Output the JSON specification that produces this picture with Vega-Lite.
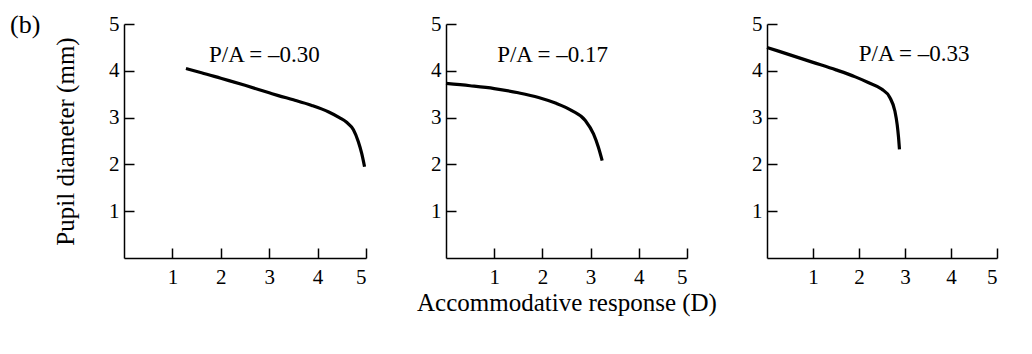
{
  "$schema": "https://vega.github.io/schema/vega-lite/v6.json",
  "padding": {"left": 10, "top": 12, "right": 5, "bottom": 5},
  "background": "white",
  "bounds": "flush",
  "spacing": 80,
  "title": {"text": "(b)", "anchor": "start", "frame": "group", "dx": -114, "dy": 46, "offset": 0, "fontSize": 26, "font": "Liberation Serif", "fontWeight": "normal", "baseline": "alphabetic", "color": "black"},
  "config": {
    "font": "Liberation Serif",
    "view": {"stroke": null},
    "axis": {
      "grid": false,
      "domainColor": "black",
      "domainWidth": 1.5,
      "tickColor": "black",
      "tickWidth": 1.5,
      "tickSize": -10,
      "labelFont": "Liberation Serif",
      "labelFontSize": 21,
      "labelColor": "black",
      "titleFont": "Liberation Serif",
      "titleFontSize": 25,
      "titleFontWeight": "normal",
      "titleColor": "black"
    },
    "axisX": {"labelPadding": 18},
    "axisY": {"labelPadding": 15}
  },
  "hconcat": [
    {
      "width": 242,
      "height": 234,
      "layer": [
        {
          "data": {"values": [
            {"x": 1.28, "y": 4.05}, {"x": 1.6, "y": 3.96}, {"x": 2.0, "y": 3.84}, {"x": 2.5, "y": 3.69},
            {"x": 3.0, "y": 3.53}, {"x": 3.19, "y": 3.47}, {"x": 3.5, "y": 3.38}, {"x": 3.88, "y": 3.26},
            {"x": 4.23, "y": 3.12}, {"x": 4.45, "y": 3.0}, {"x": 4.6, "y": 2.9}, {"x": 4.74, "y": 2.74},
            {"x": 4.84, "y": 2.49}, {"x": 4.91, "y": 2.24}, {"x": 4.97, "y": 1.95}
          ]},
          "mark": {"type": "line", "color": "black", "strokeWidth": 3.2, "interpolate": "monotone"},
          "encoding": {
            "x": {"field": "x", "type": "quantitative", "scale": {"domain": [0, 5], "nice": false}, "axis": {"title": null, "values": [1, 2, 3, 4, 5]}},
            "y": {"field": "y", "type": "quantitative", "scale": {"domain": [0, 5], "nice": false}, "axis": {"title": "Pupil diameter (mm)", "titlePadding": 30, "values": [1, 2, 3, 4, 5]}}
          }
        },
        {
          "data": {"values": [{"x": 2.9, "y": 4.18, "label": "P/A = –0.30"}]},
          "mark": {"type": "text", "fontSize": 23, "font": "Liberation Serif", "color": "black", "align": "center", "baseline": "alphabetic"},
          "encoding": {
            "x": {"field": "x", "type": "quantitative"},
            "y": {"field": "y", "type": "quantitative"},
            "text": {"field": "label"}
          }
        }
      ]
    },
    {
      "width": 241,
      "height": 234,
      "layer": [
        {
          "data": {"values": [
            {"x": 0.0, "y": 3.73}, {"x": 0.5, "y": 3.68}, {"x": 1.0, "y": 3.62}, {"x": 1.5, "y": 3.53},
            {"x": 1.92, "y": 3.43}, {"x": 2.27, "y": 3.31}, {"x": 2.61, "y": 3.15}, {"x": 2.89, "y": 2.94},
            {"x": 3.06, "y": 2.65}, {"x": 3.16, "y": 2.37}, {"x": 3.24, "y": 2.08}
          ]},
          "mark": {"type": "line", "color": "black", "strokeWidth": 3.2, "interpolate": "monotone"},
          "encoding": {
            "x": {"field": "x", "type": "quantitative", "scale": {"domain": [0, 5], "nice": false}, "axis": {"title": "Accommodative response (D)", "titlePadding": 3, "values": [1, 2, 3, 4, 5]}},
            "y": {"field": "y", "type": "quantitative", "scale": {"domain": [0, 5], "nice": false}, "axis": {"title": null, "values": [1, 2, 3, 4, 5]}}
          }
        },
        {
          "data": {"values": [{"x": 2.21, "y": 4.19, "label": "P/A = –0.17"}]},
          "mark": {"type": "text", "fontSize": 23, "font": "Liberation Serif", "color": "black", "align": "center", "baseline": "alphabetic"},
          "encoding": {
            "x": {"field": "x", "type": "quantitative"},
            "y": {"field": "y", "type": "quantitative"},
            "text": {"field": "label"}
          }
        }
      ]
    },
    {
      "width": 230,
      "height": 234,
      "layer": [
        {
          "data": {"values": [
            {"x": 0.0, "y": 4.5}, {"x": 0.5, "y": 4.34}, {"x": 1.0, "y": 4.18}, {"x": 1.5, "y": 4.02},
            {"x": 1.92, "y": 3.87}, {"x": 2.2, "y": 3.75}, {"x": 2.49, "y": 3.61}, {"x": 2.67, "y": 3.43},
            {"x": 2.78, "y": 3.14}, {"x": 2.83, "y": 2.85}, {"x": 2.86, "y": 2.57}, {"x": 2.88, "y": 2.32}
          ]},
          "mark": {"type": "line", "color": "black", "strokeWidth": 3.2, "interpolate": "monotone"},
          "encoding": {
            "x": {"field": "x", "type": "quantitative", "scale": {"domain": [0, 5], "nice": false}, "axis": {"title": null, "values": [1, 2, 3, 4, 5]}},
            "y": {"field": "y", "type": "quantitative", "scale": {"domain": [0, 5], "nice": false}, "axis": {"title": null, "values": [1, 2, 3, 4, 5]}}
          }
        },
        {
          "data": {"values": [{"x": 3.2, "y": 4.21, "label": "P/A = –0.33"}]},
          "mark": {"type": "text", "fontSize": 23, "font": "Liberation Serif", "color": "black", "align": "center", "baseline": "alphabetic"},
          "encoding": {
            "x": {"field": "x", "type": "quantitative"},
            "y": {"field": "y", "type": "quantitative"},
            "text": {"field": "label"}
          }
        }
      ]
    }
  ]
}
